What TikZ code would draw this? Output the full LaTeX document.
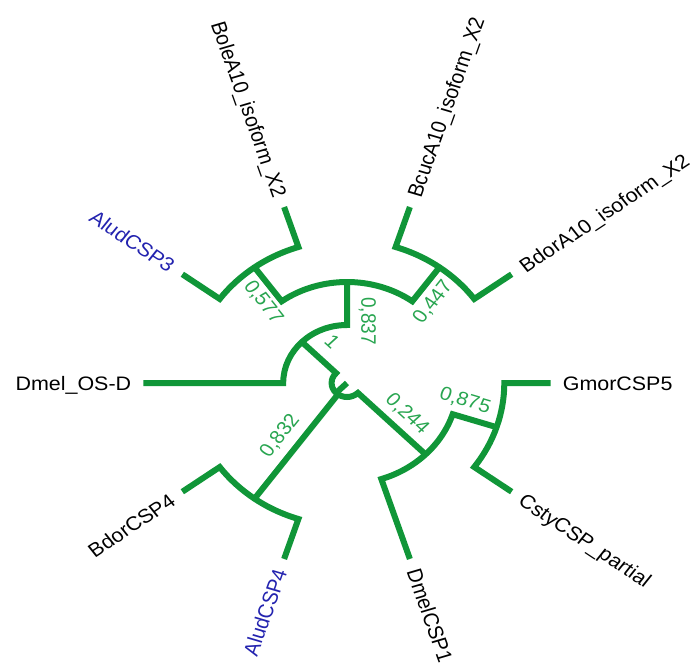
\documentclass[tikz,border=0pt]{standalone}
\usepackage{fontspec}
\setmainfont{Liberation Sans}
\definecolor{treegreen}{RGB}{16,150,56}
\definecolor{numgreen}{RGB}{40,165,80}
\definecolor{aludblue}{RGB}{35,35,175}
\begin{document}
\begin{tikzpicture}[x=1pt,y=1pt,
  br/.style={draw=treegreen, line width=6pt, line join=miter},
  leaf/.style={font=\fontsize{19.5}{20}\selectfont, inner sep=0pt, text height=14pt, text depth=0pt, transform shape},
  bnum/.style={font=\fontsize{19}{20}\selectfont, text=numgreen, inner sep=0pt, transform shape}]
\useasboundingbox (0,0) rectangle (694,-666);
\begin{scope}[shift={(347,-383)}, xscale=1.1]
  % internal nodes
  \coordinate (root) at (0,0);
  \coordinate (n1) at (135:58);
  \coordinate (n837) at (90:101);
  \coordinate (n577) at (126:143);
  \coordinate (n447) at (54:143);
  \coordinate (n832) at (234:143);
  \coordinate (n244) at (315:101);
  \coordinate (n875) at (342:143);
  % leaf tips
  \coordinate (tDmelOSD) at (180:185);
  \coordinate (tAlud3) at (144:185);
  \coordinate (tBole) at (108:185);
  \coordinate (tBcuc) at (72:185);
  \coordinate (tBdorA) at (36:185);
  \coordinate (tGmor) at (0:185);
  \coordinate (tCsty) at (-36:185);
  \coordinate (tDmelCSP) at (-72:185);
  \coordinate (tAlud4) at (-108:185);
  \coordinate (tBdorCSP) at (-144:185);

  % branches
  \draw[br] (root) -- (225:14);
  \draw[br] (n1) -- (135:14) arc[start angle=135, end angle=315, radius=14] -- (n244);
  \draw[br] (234:14) -- (n832);
  \draw[br] (tDmelOSD) -- (180:58) arc[start angle=180, end angle=90, radius=58] -- (n837);
  \draw[br] (n577) -- (126:101) arc[start angle=126, end angle=54, radius=101] -- (n447);
  \draw[br] (tAlud3) -- (144:143) arc[start angle=144, end angle=108, radius=143] -- (tBole);
  \draw[br] (tBcuc) -- (72:143) arc[start angle=72, end angle=36, radius=143] -- (tBdorA);
  \draw[br] (tBdorCSP) -- (216:143) arc[start angle=216, end angle=252, radius=143] -- (tAlud4);
  \draw[br] (tDmelCSP) -- (288:101) arc[start angle=288, end angle=342, radius=101] -- (n875);
  \draw[br] (tCsty) -- (324:143) arc[start angle=324, end angle=360, radius=143] -- (tGmor);

  % leaf labels
  \node[leaf, anchor=east] (lDmelOSD) at (180:196) {Dmel\_OS-D};
  \node[leaf, anchor=east, rotate=-36, text=aludblue] (lAlud3) at (144:196) {AludCSP3};
  \node[leaf, anchor=east, rotate=-72] (lBole) at (108:196) {BoleA10\_isoform\_X2};
  \node[leaf, anchor=west, rotate=72] (lBcuc) at (72:196) {BcucA10\_isoform\_X2};
  \node[leaf, anchor=west, rotate=36] (lBdorA) at (36:196) {BdorA10\_isoform\_X2};
  \node[leaf, anchor=west] (lGmor) at (0:196) {GmorCSP5};
  \node[leaf, anchor=west, rotate=-36] (lCsty) at (-36:196) {CstyCSP\_partial};
  \node[leaf, anchor=west, rotate=-72] (lDmelCSP) at (-72:196) {DmelCSP1};
  \node[leaf, anchor=east, rotate=72, text=aludblue] (lAlud4) at (-108:196) {AludCSP4};
  \node[leaf, anchor=east, rotate=36] (lBdorCSP) at (-144:196) {BdorCSP4};

  % support values
  \node[bnum, rotate=-45] (b1) at (108:43) {1};
  \node[bnum, rotate=-90] (b837) at (73.3:64.7) {0,837};
  \node[bnum, rotate=-54] (b577) at (133.3:111) {0,577};
  \node[bnum, rotate=54] (b447) at (46:112.6) {0,447};
  \node[bnum, rotate=54] (b832) at (221:80.7) {0,832};
  \node[bnum, rotate=-45] (b244) at (-29.6:62.7) {0,244};
  \node[bnum, rotate=-18] (b875) at (-9.5:108.8) {0,875};
\end{scope}
\end{tikzpicture}
\end{document}
